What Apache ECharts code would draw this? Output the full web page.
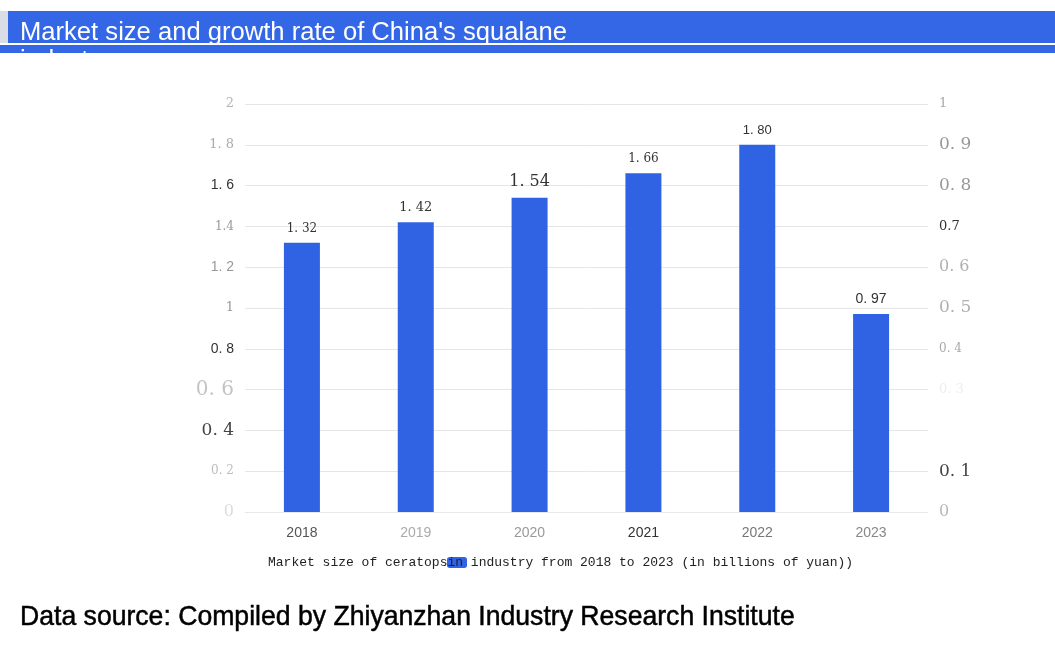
<!DOCTYPE html>
<html>
<head>
<meta charset="utf-8">
<script src="https://cdn.jsdelivr.net/npm/echarts@6/dist/echarts.min.js"></script>
<style>html,body{margin:0;padding:0;background:#fff}#c{width:1055px;height:653px}</style>
</head>
<body>
<div id="c"></div>
<script>
// ---- data ----
var categories = ['2018', '2019', '2020', '2021', '2022', '2023'];
var marketSize = [1.32, 1.42, 1.54, 1.66, 1.80, 0.97];
var seriesName = 'Market size of ceratopsin industry from 2018 to 2023 (in billions of yuan))';
var leftTickLabels = ['0', '0. 2', '0. 4', '0. 6', '0. 8', '1', '1. 2', '1.4', '1. 6', '1. 8', '2'];
var rightTickLabels = ['0', '0. 1', '', '0. 3', '0. 4', '0. 5', '0. 6', '0.7', '0. 8', '0. 9', '1'];
var titleText = "Market size and growth rate of China's squalane\nindustry";
var sourceText = 'Data source: Compiled by Zhiyanzhan Industry Research Institute';

// ---- styles (presentation only) ----
var serif = '"DejaVu Serif", "Liberation Serif", serif';
var sans = '"Liberation Sans", Arial, sans-serif';
var leftStyles = [
  {fontFamily: serif, fontSize: 16, color: '#dcdcdc'},
  {fontFamily: serif, fontSize: 12, color: '#bdbdbd'},
  {fontFamily: serif, fontSize: 17, color: '#444'},
  {fontFamily: serif, fontSize: 20, color: '#c4c4c4'},
  {fontFamily: sans, fontSize: 14, color: '#333'},
  {fontFamily: serif, fontSize: 13, color: '#9a9a9a'},
  {fontFamily: sans, fontSize: 14, color: '#999'},
  {fontFamily: serif, fontSize: 12, color: '#9a9a9a'},
  {fontFamily: sans, fontSize: 14, color: '#333'},
  {fontFamily: serif, fontSize: 13, color: '#aaa'},
  {fontFamily: serif, fontSize: 13, color: '#b5b5b5'}
];
var rightStyles = [
  {fontFamily: serif, fontSize: 16, color: '#b8b8b8'},
  {fontFamily: serif, fontSize: 17, color: '#444'},
  {fontFamily: serif, fontSize: 13, color: '#eee'},
  {fontFamily: serif, fontSize: 13, color: '#eeeeee'},
  {fontFamily: serif, fontSize: 12, color: '#aaa'},
  {fontFamily: serif, fontSize: 17, color: '#b0b0b0'},
  {fontFamily: serif, fontSize: 16, color: '#b0b0b0'},
  {fontFamily: serif, fontSize: 13, color: '#333'},
  {fontFamily: serif, fontSize: 17, color: '#999'},
  {fontFamily: serif, fontSize: 17, color: '#999'},
  {fontFamily: serif, fontSize: 13, color: '#aaa'}
];
var xStyles = [
  {fontFamily: sans, fontSize: 14, color: '#555'},
  {fontFamily: sans, fontSize: 14, color: '#aaa'},
  {fontFamily: sans, fontSize: 14, color: '#999'},
  {fontFamily: sans, fontSize: 14, color: '#333'},
  {fontFamily: sans, fontSize: 14, color: '#777'},
  {fontFamily: sans, fontSize: 14, color: '#888'}
];
var barLabelStyles = [
  {fontFamily: serif, fontSize: 12},
  {fontFamily: serif, fontSize: 13},
  {fontFamily: serif, fontSize: 16},
  {fontFamily: serif, fontSize: 12},
  {fontFamily: sans, fontSize: 13},
  {fontFamily: sans, fontSize: 14}
];

function richFrom(list, prefix) {
  var r = {};
  list.forEach(function (s, i) { r[prefix + i] = s; });
  return r;
}

var chart = echarts.init(document.getElementById('c'), null, {renderer: 'canvas'});
var blue = '#2f63e4';

chart.setOption({
  backgroundColor: '#ffffff',
  animation: false,
  title: {
    text: titleText,
    left: 20,
    top: 19,
    padding: 0,
    textStyle: {color: '#ffffff', fontFamily: sans, fontSize: 25.6, fontWeight: 'normal', lineHeight: 28}
  },
  legend: {
    data: [seriesName],
    left: 447,
    top: 557,
    padding: 0,
    itemWidth: 20,
    itemHeight: 11,
    formatter: function () { return ''; },
    textStyle: {fontSize: 1}
  },
  grid: {left: 245, right: 127, top: 104, bottom: 141, containLabel: false},
  xAxis: {
    type: 'category',
    data: categories,
    axisLine: {show: true, lineStyle: {color: '#e8e8e8'}},
    axisTick: {show: false},
    axisLabel: {
      margin: 14,
      formatter: function (v, i) { return '{x' + i + '|' + v + '}'; },
      rich: richFrom(xStyles, 'x')
    }
  },
  yAxis: [{
    type: 'value', min: 0, max: 2, interval: 0.2,
    axisLine: {show: false}, axisTick: {show: false},
    splitLine: {lineStyle: {color: '#e6e6e6'}},
    axisLabel: {
      margin: 11,
      formatter: function (v) { var i = Math.round(v / 0.2); return '{l' + i + '|' + leftTickLabels[i] + '}'; },
      rich: richFrom(leftStyles, 'l')
    }
  }, {
    type: 'value', min: 0, max: 1, interval: 0.1,
    axisLine: {show: false}, axisTick: {show: false},
    splitLine: {show: false},
    axisLabel: {
      margin: 11,
      formatter: function (v) { var i = Math.round(v / 0.1); return rightTickLabels[i] ? '{r' + i + '|' + rightTickLabels[i] + '}' : ''; },
      rich: richFrom(rightStyles, 'r')
    }
  }],
  series: [{
    name: seriesName,
    type: 'bar',
    yAxisIndex: 0,
    barWidth: 36,
    itemStyle: {color: blue},
    data: marketSize.map(function (v, i) {
      return {
        value: v,
        label: {
          show: true, position: 'top', distance: 8, color: '#333',
          fontFamily: barLabelStyles[i].fontFamily, fontSize: barLabelStyles[i].fontSize,
          formatter: function (p) { return p.value.toFixed(2).replace('.', '. '); }
        }
      };
    })
  }],
  graphic: [
    {type: 'rect', z: -1, zlevel: 0, shape: {x: 0, y: 11, width: 1055, height: 42}, style: {fill: '#3467e6'}, silent: true},
    {type: 'rect', z: 0, shape: {x: 0, y: 11, width: 8, height: 33}, style: {fill: '#d9dde6'}, silent: true},
    {type: 'rect', z: 100, shape: {x: 0, y: 43, width: 1055, height: 2}, style: {fill: '#ffffff'}, silent: true},
    {type: 'rect', z: 100, shape: {x: 0, y: 53, width: 1055, height: 30}, style: {fill: '#ffffff'}, silent: true},
    {type: 'text', z: 100, left: 268, top: 556,
      style: {text: seriesName, fill: '#222', font: '13px "Liberation Mono", "DejaVu Sans Mono", monospace'}},
    {type: 'text', z: 100, x: 20, y: 603, scaleX: 0.95,
      style: {text: sourceText, fill: '#000', stroke: '#000', lineWidth: 0.5, font: '28px "Liberation Sans", Arial, sans-serif'}}
  ]
});
</script>
</body>
</html>
